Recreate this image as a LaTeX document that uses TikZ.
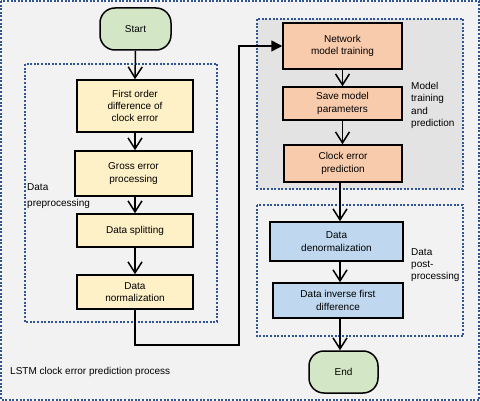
\documentclass[tikz,border=0pt]{standalone}
\usepackage{fontspec}
\setmainfont{Liberation Sans}
\usetikzlibrary{arrows.meta}

\definecolor{frameblue}{HTML}{2F5597}
\definecolor{bggray}{HTML}{F2F2F2}
\definecolor{boxgray}{HTML}{E3E3E3}
\definecolor{prefill}{HTML}{FEF0C7}
\definecolor{modelfill}{HTML}{F9CBAD}
\definecolor{postfill}{HTML}{BFD8EF}
\definecolor{termfill}{HTML}{D3E7C6}

\begin{document}
\begin{tikzpicture}[
        x=1pt, y=-1pt,
        every node/.style={font=\fontsize{10}{12.3}\selectfont, align=center, inner sep=1pt},
        stepbox/.style={rectangle, draw=black, line width=1.5pt, minimum width=#1},
        terminal/.style={rectangle, rounded corners=15pt, draw=black, line width=1.5pt, fill=termfill, minimum height=42pt},
        groupbox/.style={draw=frameblue, line width=1.2pt, dash pattern=on 2pt off 1.6pt},
        grouplabel/.style={align=left, anchor=north west},
        flow/.style={-{Straight Barb[length=11pt,width=14pt]}, line width=1.5pt},
        feed/.style={-{Triangle[length=11pt,width=11pt]}, line width=1.5pt}
        ]
        \useasboundingbox (0,0) rectangle (480,401);
        \draw[groupbox, fill=bggray] (1,1) rectangle (479,400);

        % group frames
        \draw[groupbox] (25,64) rectangle (217,322);
        \draw[groupbox, fill=boxgray] (257,19) rectangle (463,189);
        \draw[groupbox] (257,205) rectangle (463,336);

        % terminals
        \node[terminal, minimum width=71pt] (start) at (135.5,29) {Start};
        \node[terminal, minimum width=69pt] (end) at (343.5,372) {End};

        % data preprocessing
        \node[stepbox=116pt, fill=prefill, minimum height=52pt] (diff) at (135,106) {First order\\difference of\\clock error};
        \node[stepbox=117pt, fill=prefill, minimum height=45pt] (gross) at (133.5,173.5) {Gross error\\processing};
        \node[stepbox=116pt, fill=prefill, minimum height=33pt] (split) at (135,230.5) {Data splitting};
        \node[stepbox=116pt, fill=prefill, minimum height=34pt] (norm) at (135,292) {Data\\normalization};

        % model training and prediction
        \node[stepbox=119pt, fill=modelfill, minimum height=46pt] (train) at (342.5,46) {Network\\model training};
        \node[stepbox=119pt, fill=modelfill, minimum height=33pt] (save) at (342.5,103.5) {Save model\\parameters};
        \node[stepbox=118pt, fill=modelfill, minimum height=37pt] (pred) at (343,163.5) {Clock error\\prediction};

        % data post-processing
        \node[stepbox=133pt, fill=postfill, minimum height=39pt] (denorm) at (336.5,241.5) {Data\\denormalization};
        \node[stepbox=130pt, fill=postfill, minimum height=35pt] (inv) at (338,300.5) {Data inverse first\\difference};

        % labels
        \node[grouplabel] (prelab) at (26,182) {Data\\[4.5pt]preprocessing};
        \node[grouplabel] (modlab) at (410,81) {Model\\training\\and\\prediction};
        \node[grouplabel] (postlab) at (410,247) {Data\\post-\\processing};
        \node[grouplabel] (mainlab) at (9,366) {LSTM clock error prediction process};

        % connectors
        \draw[flow] (start.south) -- (diff.north);
        \draw[flow] (diff.south) -- (diff.south |- gross.north);
        \draw[flow] (gross.south -| split.north) -- (split.north);
        \draw[flow] (split.south) -- (norm.north);
        \coordinate (turn) at (239,345);
        \draw[feed] (norm.south) |- (turn) |- (train.west);
        \draw[flow] (save.north |- train.south) -- (save.north);
        \draw[flow] (save.south) -- (save.south |- pred.north);
        \draw[flow] ([xshift=-3pt]pred.south) -- ([xshift=-3pt]pred.south |- denorm.north);
        \draw[flow] ([xshift=-3pt]pred.south |- denorm.south) -- ([xshift=-3pt]pred.south |- inv.north);
        \draw[flow] ([xshift=-3pt]pred.south |- inv.south) -- ([xshift=-3pt]pred.south |- end.north);
\end{tikzpicture}
\end{document}
